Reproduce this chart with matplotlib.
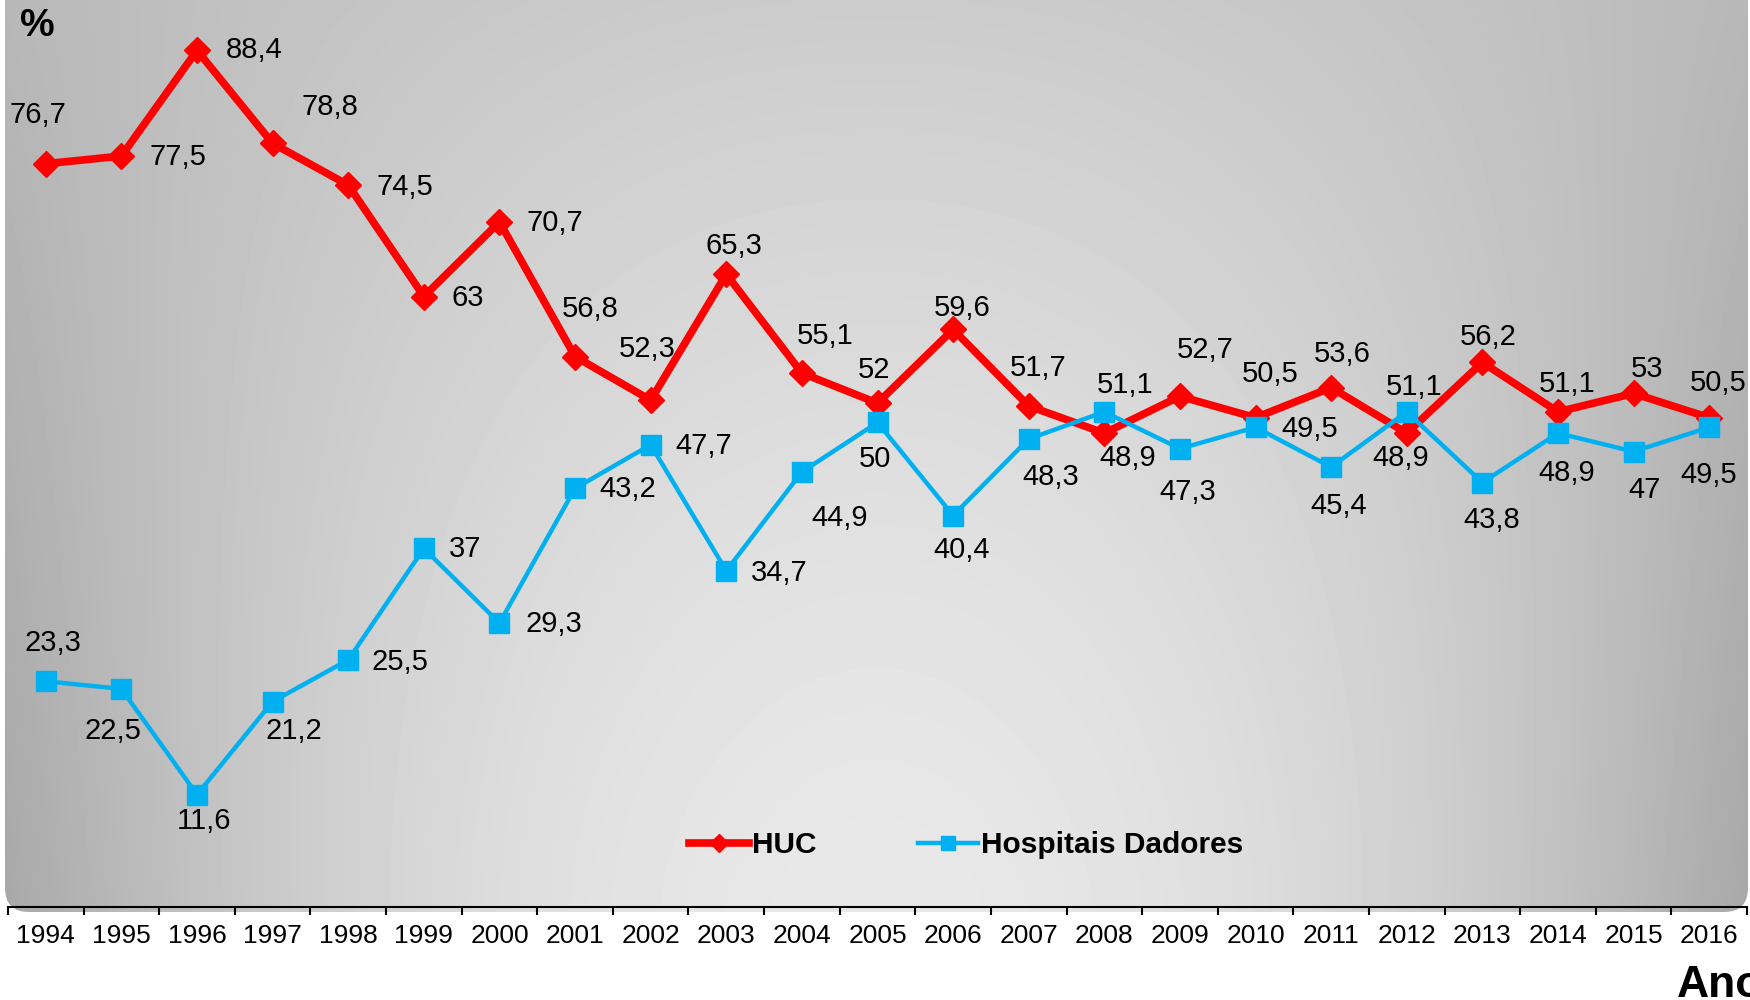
import numpy as np
import matplotlib
matplotlib.use('Agg')
import matplotlib.pyplot as plt
from matplotlib.patches import FancyBboxPatch

plt.rcParams['font.family'] = ['Liberation Sans', 'DejaVu Sans']

years = [str(y) for y in range(1994, 2017)]
huc = [76.7, 77.5, 88.4, 78.8, 74.5, 63, 70.7, 56.8, 52.3, 65.3, 55.1, 52, 59.6,
       51.7, 48.9, 52.7, 50.5, 53.6, 48.9, 56.2, 51.1, 53, 50.5]
dadores = [23.3, 22.5, 11.6, 21.2, 25.5, 37, 29.3, 43.2, 47.7, 34.7, 44.9, 50, 40.4,
           48.3, 51.1, 47.3, 49.5, 45.4, 51.1, 43.8, 48.9, 47, 49.5]

# label offsets in pixels (dx, dy up) -- copied by eye from the reference
huc_off = [(-8, 49), (57, -1), (57, 0), (57, 36), (57, -2), (44, -1), (55, -1),
           (15, 48), (-3, 51), (8, 28), (23, 37), (-3, 33), (9, 21), (9, 38),
           (23, -25), (25, 46), (15, 44), (11, 34), (-6, -25), (6, 25), (9, 28),
           (13, 24), (9, 35)]
dad_off = [(7, 38), (-8, -42), (7, -26), (21, -29), (52, -2), (41, -1), (54, -1),
           (53, -1), (53, -1), (53, -2), (38, -46), (-3, -37), (9, -34), (22, -38),
           (21, 27), (8, -43), (54, -2), (8, -39), (7, 25), (9, -37), (9, -40),
           (11, -38), (-1, -48)]

red = '#FF0000'
blue = '#00B0F0'

fig = plt.figure(figsize=(17.5, 10), dpi=100)

# gradient background with rounded corners
bg = fig.add_axes([0, 0, 1, 1])
bg.set_xlim(0, 1750)
bg.set_ylim(1000, 0)
bg.axis('off')
gx, gy = np.meshgrid(np.linspace(0, 1, 400), np.linspace(0, 1, 300))
ex = np.abs(gx - 0.5) / 0.5
shade = 0.91 - 0.25 * ex ** 2 * (0.75 + 0.25 * gy) - 0.12 * (1 - gy) ** 1.5 * (1 - ex ** 2)
rect = FancyBboxPatch((5, -40), 1743, 952, boxstyle='round,pad=0,rounding_size=24',
                      facecolor='none', edgecolor='none', transform=bg.transData)
bg.add_patch(rect)
im = bg.imshow(shade, cmap='gray', vmin=0, vmax=1, extent=(5, 1748, 912, -40),
               aspect='auto', interpolation='bilinear')
im.set_clip_path(rect)

ax = fig.add_axes([8 / 1750, 93 / 1000, 1739 / 1750, 907 / 1000])
ax.patch.set_alpha(0)
x = np.arange(len(years))
ax.plot(x, huc, color=red, lw=5.5, marker='D', ms=13, label='HUC', zorder=3)
ax.plot(x, dadores, color=blue, lw=3.2, marker='s', ms=14, label='Hospitais Dadores', zorder=4)

for i in range(len(years)):
    ax.annotate(f'{huc[i]:g}'.replace('.', ','), (x[i], huc[i]), xytext=huc_off[i],
                textcoords='offset pixels', ha='center', va='center', fontsize=21)
    ax.annotate(f'{dadores[i]:g}'.replace('.', ','), (x[i], dadores[i]), xytext=dad_off[i],
                textcoords='offset pixels', ha='center', va='center', fontsize=21)

ax.set_xlim(-0.5, 22.5)
ax.set_ylim(0, 93.6)
for s in ['top', 'right', 'left']:
    ax.spines[s].set_visible(False)
ax.spines['bottom'].set_linewidth(1.5)
ax.set_yticks([])
ax.set_xticks(np.arange(-0.5, 23, 1))
ax.set_xticklabels([])
ax.tick_params(axis='x', which='major', length=6, width=1.5, direction='out')
ax.set_xticks(x, minor=True)
ax.set_xticklabels(years, minor=True, fontsize=19)
ax.tick_params(axis='x', which='minor', length=0, pad=12)

ax.legend(loc='center', bbox_to_anchor=(966 / 1750, 155 / 1000), bbox_transform=fig.transFigure,
          ncol=2, frameon=False, handlelength=2.0, handletextpad=0.1, columnspacing=3.4,
          markerscale=0.7, prop={'size': 21.5, 'weight': 'bold'})

fig.text(20 / 1750, 1 - 8 / 1000, '%', fontsize=28, fontweight='bold', va='top')
fig.text(1677 / 1750, 3 / 1000, 'Ano', fontsize=32, fontweight='bold', va='baseline')

plt.savefig('out.png', dpi=100)
